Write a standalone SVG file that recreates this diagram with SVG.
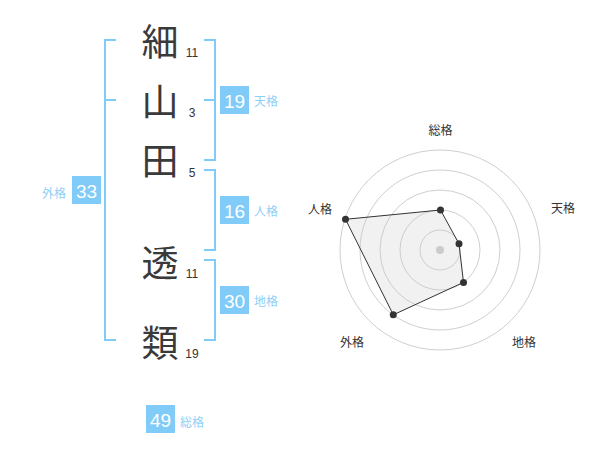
<svg xmlns="http://www.w3.org/2000/svg" width="600" height="470" viewBox="0 0 600 470">
<style>
.kanji{font-family:"Noto Sans CJK JP","Noto Sans CJK SC",sans-serif;font-size:37px;fill:#3a3a3a;text-anchor:middle}
.num{font-family:"Liberation Sans",Arial,sans-serif;font-size:12px;fill:#333;text-anchor:middle}
.br{fill:none;stroke:#80cbf8;stroke-width:2}
.badge{fill:#80cbf8}
.bt{font-family:"Liberation Sans",Arial,sans-serif;font-size:19px;fill:#fff;text-anchor:middle}
.lbl{font-family:"Noto Sans CJK JP","Noto Sans CJK SC",sans-serif;font-size:12px;fill:#8ed0f8}
.rl{font-family:"Noto Sans CJK JP","Noto Sans CJK SC",sans-serif;font-size:12px;fill:#333;text-anchor:middle}
.ring{fill:none;stroke:#cfcfcf;stroke-width:1}
.pt{fill:#333}
</style>
<rect width="600" height="470" fill="#fff"/>
<g id="chars">
<g id="c1"><text class="kanji" x="160" y="56">細</text><text class="num" x="192" y="57">11</text></g>
<g id="c2"><text class="kanji" x="160" y="116">山</text><text class="num" x="192" y="117">3</text></g>
<g id="c3"><text class="kanji" x="160" y="175">田</text><text class="num" x="192" y="177">5</text></g>
<g id="c4"><text class="kanji" x="160" y="277">透</text><text class="num" x="192" y="278">11</text></g>
<g id="c5"><text class="kanji" x="160" y="357">類</text><text class="num" x="192" y="358">19</text></g>
</g>
<g id="connectors">
<path class="br" d="M116,40 H105 V340 H116 M105,100 H116"/>
<path class="br" d="M204,40 H215 V160 H204 M204,100 H215"/>
<path class="br" d="M204,170 H215 V250 H204"/>
<path class="br" d="M204,260 H215 V340 H204"/>
</g>
<g id="gaikaku"><rect class="badge" x="72" y="176" width="29" height="28"/><text class="bt" x="86.5" y="198">33</text><text class="lbl" x="66" y="198" text-anchor="end">外格</text></g>
<g id="tenkaku"><rect class="badge" x="220" y="86" width="29" height="28"/><text class="bt" x="234.5" y="108">19</text><text class="lbl" x="254" y="106">天格</text></g>
<g id="jinkaku"><rect class="badge" x="220" y="196" width="29" height="28"/><text class="bt" x="234.5" y="218">16</text><text class="lbl" x="254" y="216">人格</text></g>
<g id="chikaku"><rect class="badge" x="220" y="286" width="29" height="28"/><text class="bt" x="234.5" y="308">30</text><text class="lbl" x="254" y="306">地格</text></g>
<g id="soukaku"><rect class="badge" x="146" y="405" width="29" height="28"/><text class="bt" x="160.5" y="427">49</text><text class="lbl" x="180" y="427">総格</text></g>
<g id="radar">
<circle class="ring" cx="440" cy="250" r="20"/>
<circle class="ring" cx="440" cy="250" r="40"/>
<circle class="ring" cx="440" cy="250" r="60"/>
<circle class="ring" cx="440" cy="250" r="80"/>
<circle class="ring" cx="440" cy="250" r="100"/>
<circle cx="440" cy="250" r="4" fill="#cccccc"/>
<polygon points="440.5,210 459,243.8 463.5,282.4 393.3,314.8 345.5,219.3" fill="rgba(200,200,200,0.25)" stroke="#333" stroke-width="1"/>
<circle class="pt" cx="440.5" cy="210" r="3.5"/>
<circle class="pt" cx="459" cy="243.8" r="3.5"/>
<circle class="pt" cx="463.5" cy="282.4" r="3.5"/>
<circle class="pt" cx="393.3" cy="314.8" r="3.5"/>
<circle class="pt" cx="345.5" cy="219.3" r="3.5"/>
<text class="rl" x="440.5" y="135">総格</text>
<text class="rl" x="563" y="213">天格</text>
<text class="rl" x="524" y="347">地格</text>
<text class="rl" x="352" y="347">外格</text>
<text class="rl" x="320" y="214">人格</text>
</g>
</svg>
